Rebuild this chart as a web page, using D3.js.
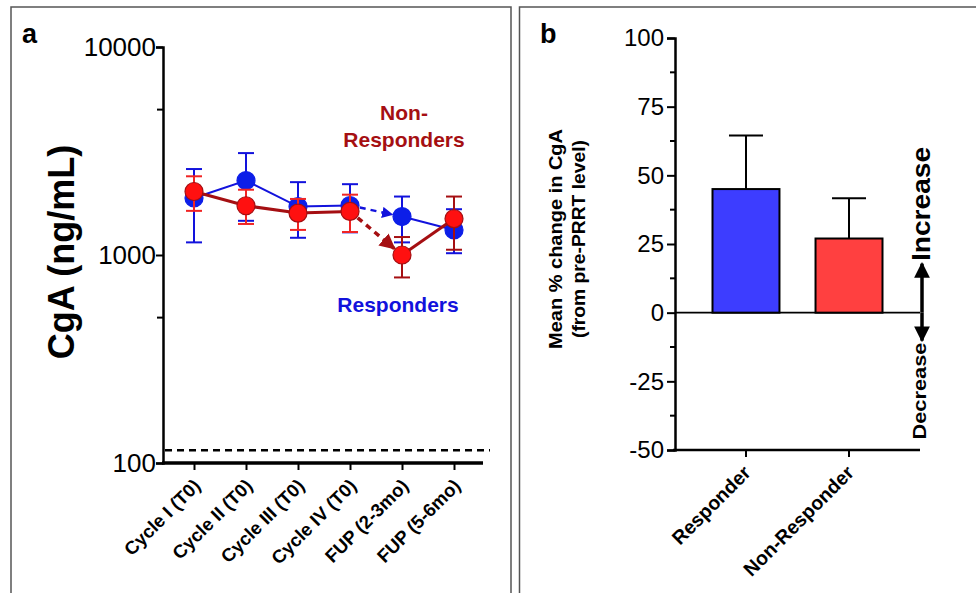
<!DOCTYPE html>
<html>
<head>
<meta charset="utf-8">
<script src="https://cdn.jsdelivr.net/npm/d3@7"></script>
<style>
body { margin:0; background:#fff; }
svg { font-family: "Liberation Sans", Arial, sans-serif; }
.axis path, .axis line { stroke:#000; }
</style>
</head>
<body>
<svg id="chart" width="976" height="593"></svg>
<script>
// panel a data (CgA, ng/mL)
var cycles = ["Cycle I (T0)", "Cycle II (T0)", "Cycle III (T0)", "Cycle IV (T0)", "FUP (2-3mo)", "FUP (5-6mo)"]
var respMean = [1880, 2280, 1710, 1730, 1530, 1320]
var respHi   = [2590, 3090, 2240, 2190, 1910, 1660]
var respLo   = [1150, 1460, 1210, 1285, 1150, 1020]
var nonMean  = [2020, 1725, 1590, 1620, 1000, 1495]
var nonHi    = [2390, 2060, 1860, 1950, 1220, 1910]
var nonLo    = [1630, 1410, 1320, 1290, 780, 1060]
var normLimit = 115
var logTicks = [100, 1000, 10000]
var logMinor = [500, 5000]

// panel b data (% change)
var groups = ["Responder", "Non-Responder"]
var pctMean = [45, 27]
var pctErr  = [64.5, 41.7]
var pctTicks = [-50, -25, 0, 25, 50, 75, 100]
var pctMinor = [-37.5, -12.5, 12.5, 37.5, 62.5, 87.5]

var BLUE = "#1212dc", DARKRED = "#a50f12", RED = "#ff1010", BRIGHT = "#f02424"
var svg = d3.select("#chart")

// panel borders
svg.append("rect").attr("x",11).attr("y",7).attr("width",500).attr("height",620)
	.attr("fill","none").attr("stroke","#555").attr("stroke-width",1.5)
svg.append("rect").attr("x",519.5).attr("y",7).attr("width",480).attr("height",620)
	.attr("fill","none").attr("stroke","#555").attr("stroke-width",1.5)

/* ---------- panel a ---------- */
var ga = svg.append("g")
var x = d3.scalePoint().domain(cycles).range([194, 454])
var y = d3.scaleLog().domain([100, 10000]).range([463, 47])

ga.append("text").attr("x",22).attr("y",43).attr("font-size",27).attr("font-weight","bold").text("a")

var yAx = ga.append("g").attr("class","axis").attr("transform","translate(163,0)")
	.call(d3.axisLeft(y).tickValues(logTicks).tickFormat(d => String(d)).tickSize(7).tickPadding(0))
yAx.select(".domain").attr("stroke-width",2.5)
yAx.selectAll(".tick line").attr("stroke-width",2)
yAx.selectAll("text").attr("font-size",26).attr("fill","#000")
ga.selectAll(".minorA").data(logMinor).enter().append("line")
	.attr("x1",157).attr("x2",163).attr("y1",d => y(d)).attr("y2",d => y(d))
	.attr("stroke","#000").attr("stroke-width",2)

ga.append("text").attr("transform","translate(74,252) rotate(-90)")
	.attr("text-anchor","middle").attr("font-size",36).attr("font-weight","bold").text("CgA (ng/mL)")

// normal limit
ga.append("line").attr("x1",165).attr("x2",490).attr("y1",y(normLimit)).attr("y2",y(normLimit))
	.attr("stroke","#000").attr("stroke-width",2.5).attr("stroke-dasharray","7,5")

var xAx = ga.append("g").attr("class","axis").attr("transform","translate(0,463)")
	.call(d3.axisBottom(x).tickSize(7))
xAx.select(".domain").remove()
xAx.selectAll(".tick line").attr("stroke-width",2)
xAx.selectAll("text").attr("font-size",18.5).attr("font-weight","bold").attr("fill","#000")
	.attr("x",0).attr("y",0).attr("dy",0)
	.attr("text-anchor","end").attr("transform","translate(7,24) rotate(-45)")
ga.append("line").attr("x1",162).attr("x2",483).attr("y1",463).attr("y2",463)
	.attr("stroke","#000").attr("stroke-width",3.5)

var defs = svg.append("defs")
function marker(id, col, w, h){
	defs.append("marker").attr("id",id).attr("viewBox","0 0 10 10").attr("refX",9).attr("refY",5)
		.attr("markerWidth",w).attr("markerHeight",h).attr("orient","auto")
		.append("path").attr("d","M0,0L10,5L0,10z").attr("fill",col)
}
marker("arB", BLUE, 4.5, 4.5)
marker("arR", DARKRED, 4.5, 4.5)

var R = 9
function series(mean, hi, lo, lineCol, lw, errCol, fill, stroke, arrowId){
	var g = ga.append("g")
	var pts = mean.map((v,i) => ({c: cycles[i], v: v, hi: hi[i], lo: lo[i]}))
	// error bars
	pts.forEach(function(p){
		var col = errCol(p.c), cx = x(p.c)
		g.append("line").attr("x1",cx).attr("x2",cx).attr("y1",y(p.hi)).attr("y2",y(p.lo)).attr("stroke",col).attr("stroke-width",2)
		;[p.hi, p.lo].forEach(function(e){
			g.append("line").attr("x1",cx-8).attr("x2",cx+8).attr("y1",y(e)).attr("y2",y(e)).attr("stroke",col).attr("stroke-width",2)
		})
	})
	var line = d3.line().x(d => x(d.c)).y(d => y(d.v))
	g.append("path").attr("d",line(pts.slice(0,4))).attr("fill","none").attr("stroke",lineCol).attr("stroke-width",lw)
	g.append("path").attr("d",line(pts.slice(4))).attr("fill","none").attr("stroke",lineCol).attr("stroke-width",lw)
	// dashed arrow from cycle IV to first follow-up
	var a = pts[3], b = pts[4]
	var x1 = x(a.c), y1 = y(a.v), x2 = x(b.c), y2 = y(b.v)
	var len = Math.hypot(x2-x1, y2-y1), ux = (x2-x1)/len, uy = (y2-y1)/len
	g.append("line").attr("x1",x1+ux*(R+1)).attr("y1",y1+uy*(R+1)).attr("x2",x2-ux*(R+1)).attr("y2",y2-uy*(R+1))
		.attr("stroke",lineCol).attr("stroke-width",lw+0.5).attr("stroke-dasharray","6,5")
		.attr("marker-end","url(#"+arrowId+")")
	g.selectAll("circle").data(pts).enter().append("circle")
		.attr("cx",d => x(d.c)).attr("cy",d => y(d.v)).attr("r",R)
		.attr("fill",fill).attr("stroke",stroke).attr("stroke-width",1.2)
}
series(respMean, respHi, respLo, BLUE, 2, c => BLUE, "#0c1ee8", "#0c1ee8", "arB")
series(nonMean, nonHi, nonLo, DARKRED, 3, c => c.indexOf("Cycle") == 0 ? BRIGHT : DARKRED, RED, DARKRED, "arR")

ga.append("text").attr("x",404).attr("y",120).attr("text-anchor","middle").attr("font-size",21)
	.attr("font-weight","bold").attr("fill",DARKRED).text("Non-")
ga.append("text").attr("x",404).attr("y",147).attr("text-anchor","middle").attr("font-size",21)
	.attr("font-weight","bold").attr("fill",DARKRED).text("Responders")
ga.append("text").attr("x",398).attr("y",312).attr("text-anchor","middle").attr("font-size",21)
	.attr("font-weight","bold").attr("fill",BLUE).text("Responders")

/* ---------- panel b ---------- */
var gb = svg.append("g")
var xb = d3.scaleBand().domain(groups).range([675, 920]).paddingInner(0.35).paddingOuter(0.364)
var yb = d3.scaleLinear().domain([-50, 100]).range([450, 38])

gb.append("text").attr("x",540).attr("y",43).attr("font-size",27).attr("font-weight","bold").text("b")

var ybAx = gb.append("g").attr("class","axis").attr("transform","translate(675,0)")
	.call(d3.axisLeft(yb).tickValues(pctTicks).tickFormat(d => String(d)).tickSize(8).tickPadding(3))
ybAx.select(".domain").attr("stroke-width",2.5)
ybAx.selectAll(".tick line").attr("stroke-width",2)
ybAx.selectAll("text").attr("font-size",24).attr("fill","#000")
gb.selectAll(".minorB").data(pctMinor).enter().append("line")
	.attr("x1",670).attr("x2",675).attr("y1",d => yb(d)).attr("y2",d => yb(d))
	.attr("stroke","#000").attr("stroke-width",2)

var tt = gb.append("text").attr("transform","translate(562,239) rotate(-90)")
	.attr("text-anchor","middle").attr("font-size",17.5).attr("font-weight","bold")
tt.append("tspan").attr("x",0).attr("dy",0).attr("textLength",220).attr("lengthAdjust","spacingAndGlyphs").text("Mean % change in CgA")
tt.append("tspan").attr("x",0).attr("dy",23).attr("textLength",198).attr("lengthAdjust","spacingAndGlyphs").text("(from pre-PRRT level)")

// zero line
gb.append("line").attr("x1",675).attr("x2",920).attr("y1",yb(0)).attr("y2",yb(0)).attr("stroke","#000").attr("stroke-width",1.8)

var xbAx = gb.append("g").attr("class","axis").attr("transform","translate(0,450)")
	.call(d3.axisBottom(xb).tickSize(7))
xbAx.select(".domain").remove()
xbAx.selectAll(".tick line").attr("stroke-width",2)
xbAx.selectAll("text").attr("font-size",19.5).attr("font-weight","bold").attr("fill","#000")
	.attr("x",0).attr("y",0).attr("dy",0)
	.attr("text-anchor","end").attr("transform","translate(6,24) rotate(-45)")
gb.append("line").attr("x1",673).attr("x2",920).attr("y1",450).attr("y2",450).attr("stroke","#000").attr("stroke-width",2.5)

var barCols = ["#3d3dff", "#ff4040"]
groups.forEach(function(gname, i){
	var cx = xb(gname) + xb.bandwidth()/2
	gb.append("line").attr("x1",cx).attr("x2",cx).attr("y1",yb(pctMean[i])).attr("y2",yb(pctErr[i])).attr("stroke","#000").attr("stroke-width",2)
	gb.append("line").attr("x1",cx-17).attr("x2",cx+17).attr("y1",yb(pctErr[i])).attr("y2",yb(pctErr[i])).attr("stroke","#000").attr("stroke-width",2)
	gb.append("rect").attr("x",xb(gname)).attr("width",xb.bandwidth())
		.attr("y",yb(pctMean[i])).attr("height",yb(0)-yb(pctMean[i]))
		.attr("fill",barCols[i]).attr("stroke","#000").attr("stroke-width",2)
})

// increase / decrease arrow
marker("arK", "#000", 4.5, 4.8)
gb.append("line").attr("x1",922).attr("x2",922).attr("y1",yb(0)).attr("y2",yb(0)-49)
	.attr("stroke","#000").attr("stroke-width",3.5).attr("marker-end","url(#arK)")
gb.append("line").attr("x1",922).attr("x2",922).attr("y1",yb(0)).attr("y2",yb(0)+28)
	.attr("stroke","#000").attr("stroke-width",3.5).attr("marker-end","url(#arK)")
gb.append("text").attr("transform","translate(930,204) rotate(-90)").attr("text-anchor","middle")
	.attr("font-size",25).attr("font-weight","bold").attr("textLength",114).attr("lengthAdjust","spacingAndGlyphs").text("Increase")
gb.append("text").attr("transform","translate(926,391) rotate(-90)").attr("text-anchor","middle")
	.attr("font-size",18).attr("font-weight","bold").attr("textLength",97).attr("lengthAdjust","spacingAndGlyphs").text("Decrease")
</script>
</body>
</html>
